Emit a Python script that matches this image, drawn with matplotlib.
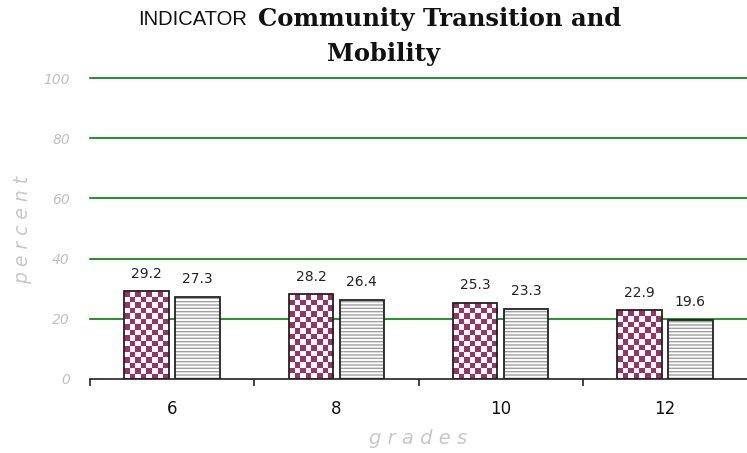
import numpy as np
import matplotlib.pyplot as plt
from matplotlib.colors import ListedColormap
from matplotlib.patches import Rectangle

# Datos
grades = ['6', '8', '10', '12']
serie_a = [29.2, 28.2, 25.3, 22.9]
serie_b = [27.3, 26.4, 23.3, 19.6]

W, H = 747, 453
fig = plt.figure(figsize=(W / 100, H / 100), dpi=100)
ax = fig.add_axes([90 / W, 1 - 379 / H, (W - 90) / W, (379 - 78) / H])

x = np.arange(len(grades))
ancho = 0.27
desp = 0.155
granate = '#993366'

ax.set_xlim(-0.5, len(grades) - 0.5)
ax.set_ylim(0, 100)

# Rejilla verde
for yv in range(20, 101, 20):
    ax.axhline(yv, color='#008000', lw=1.2, zorder=1, clip_on=False)

px_y = (379 - 78) / 100.0  # pixeles por unidad en y
celda = 5.6  # alto del cuadro del damero en pixeles
cmap = ListedColormap(['white', granate])

for xi, va, vb in zip(x, serie_a, serie_b):
    # Barra con damero
    x0 = xi - desp - ancho / 2
    barra = Rectangle((x0, 0), ancho, va, facecolor='white', edgecolor='none', zorder=2)
    ax.add_patch(barra)
    ncol = 8
    nfil = max(1, int(round(va * px_y / celda)))
    tablero = np.indices((nfil, ncol)).sum(axis=0) % 2
    img = ax.imshow(tablero, cmap=cmap, extent=(x0, x0 + ancho, 0, va),
                    interpolation='nearest', aspect='auto', origin='lower', zorder=3)
    img.set_clip_path(barra)
    ax.add_patch(Rectangle((x0, 0), ancho, va, fill=False, edgecolor='#222222',
                           lw=1.3, zorder=4))
    ax.text(x0 + ancho / 2, va + 3.5, f'{va}', ha='center', va='bottom',
            fontsize=10, color='#222222', zorder=5)

    # Barra con rayas horizontales
    x1 = xi + desp - ancho / 2
    ax.add_patch(Rectangle((x1, 0), ancho, vb, facecolor='white', edgecolor='#a0a0a0',
                           lw=0, hatch='-----', zorder=2))
    ax.add_patch(Rectangle((x1, 0), ancho, vb, fill=False, edgecolor='#222222',
                           lw=1.3, zorder=4))
    ax.text(x1 + ancho / 2, vb + 3.5, f'{vb}', ha='center', va='bottom',
            fontsize=10, color='#222222', zorder=5)

# Ejes
for lado in ['top', 'right', 'left']:
    ax.spines[lado].set_visible(False)
ax.spines['bottom'].set_color('#222222')
ax.spines['bottom'].set_linewidth(1.2)
ax.spines['bottom'].set_zorder(6)

ax.set_xticks(x)
ax.set_xticklabels(grades, fontsize=12, color='#111111')
ax.tick_params(axis='x', which='major', length=0, pad=15)
ax.set_xticks(np.arange(-0.5, len(grades) - 0.5, 1.0), minor=True)
ax.tick_params(axis='x', which='minor', length=5, width=1.2, color='#222222', direction='out')

ax.set_yticks(range(0, 101, 20))
ax.set_yticklabels([str(v) for v in range(0, 101, 20)], fontsize=10,
                   color='#c0c0c0', style='italic')
ax.tick_params(axis='y', length=0, pad=14.5)

fig.text(23 / W, 1 - 230 / H, 'p e r c e n t', rotation=90, ha='center', va='center',
         fontsize=13.5, color='#c8c8c8', style='italic')
fig.text(418 / W, 1 - 438 / H, 'g r a d e s', ha='center', va='center',
         fontsize=14, color='#c8c8c8', style='italic')

# Titulo
fig.text(247 / W, 1 - 25 / H, 'INDICATOR', ha='right', va='baseline',
         fontsize=14.5, color='#111111', family='Liberation Sans')
fig.text(258 / W, 1 - 26 / H, 'Community Transition and', ha='left', va='baseline',
         fontsize=17.5, fontweight='bold', family='DejaVu Serif', color='#111111')
fig.text(383 / W, 1 - 61 / H, 'Mobility', ha='center', va='baseline',
         fontsize=17.5, fontweight='bold', family='DejaVu Serif', color='#111111')

fig.savefig('out.png', dpi=100)
